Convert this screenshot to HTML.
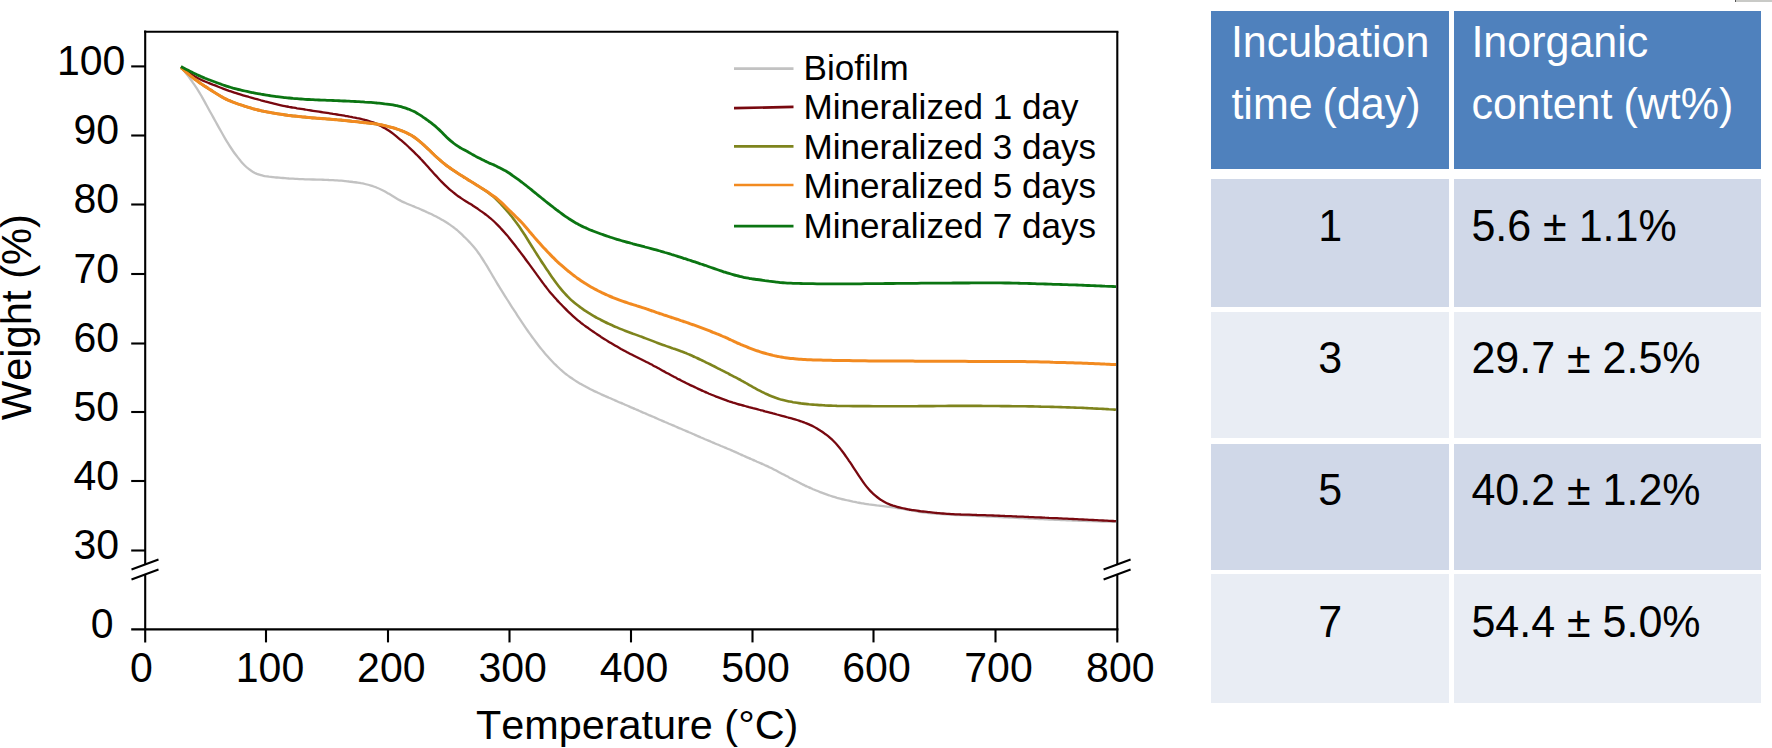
<!DOCTYPE html>
<html lang="en">
<head>
<meta charset="utf-8">
<title>TGA weight loss and inorganic content</title>
<style>
html,body{margin:0;padding:0;background:#fff;}
body{width:1772px;height:748px;position:relative;overflow:hidden;font-family:"Liberation Sans",sans-serif;color:#000;font-kerning:none;}
.chart{position:absolute;left:0;top:0;}
.chart text{font-family:"Liberation Sans",sans-serif;fill:#000;font-kerning:none;}
.corner{position:absolute;left:1735px;top:0;width:37px;height:2px;background:#c9cac7;border-left:1px solid #555;}
.tbl{position:absolute;left:0;top:0;width:1772px;height:748px;font-size:43px;}
.row{position:absolute;left:1211.4px;width:549.3px;}
.cell{position:absolute;top:0;bottom:0;box-sizing:border-box;}
.c1{left:0;width:237.4px;}
.c2{left:242.5px;width:306.8px;}
.hd{top:11.3px;height:157.3px;color:#fff;}
.hd .cell{background:#4f81bd;}
.r1{top:178.8px;height:128px;}
.r2{top:312.2px;height:126.2px;}
.r3{top:443.5px;height:126.4px;}
.r4{top:574.3px;height:129.2px;}
.r1 .cell,.r3 .cell{background:#d0d8e8;}
.r2 .cell,.r4 .cell{background:#e9edf4;}
.cell span{position:absolute;white-space:nowrap;line-height:1;transform-origin:0 36.2px;}
.hd span{transform:scaleY(1.015);}
.bd span{transform:scaleY(1.04);}
.c1 .n{left:0;right:0;text-align:center;}
.c2 .v{left:17.5px;}
</style>
</head>
<body>
<svg class="chart" role="img" aria-label="Thermogravimetric weight loss curves" width="1772" height="748" viewBox="0 0 1772 748">
<g fill="none" stroke-linejoin="round" stroke-linecap="butt">
<path stroke="#c2c2c2" stroke-width="2.3" d="M181.0 67.2C181.7 68.0 183.7 70.4 185.0 72.1C186.3 73.7 187.7 75.4 189.0 77.2C190.3 79.0 191.7 80.8 193.0 82.8C194.3 84.7 195.7 86.7 197.0 88.7C198.3 90.8 199.7 93.0 201.0 95.3C202.3 97.6 203.7 100.0 205.0 102.4C206.3 104.8 207.7 107.2 209.0 109.7C210.3 112.1 211.7 114.5 213.0 116.9C214.3 119.3 215.7 121.7 217.0 124.1C218.3 126.5 219.7 129.0 221.0 131.3C222.3 133.7 223.7 136.1 225.0 138.3C226.3 140.6 227.7 142.8 229.0 144.9C230.3 147.0 231.7 149.0 233.0 151.0C234.3 152.9 235.7 154.7 237.0 156.4C238.3 158.2 239.7 159.8 241.0 161.4C242.3 162.9 243.7 164.4 245.0 165.7C246.3 167.0 247.7 168.2 249.0 169.2C250.3 170.3 251.7 171.2 253.0 171.9C254.3 172.7 255.7 173.3 257.0 173.9C258.3 174.4 259.7 174.8 261.0 175.2C262.3 175.6 263.7 175.8 265.0 176.1C266.3 176.3 267.7 176.5 269.0 176.7C270.3 176.8 271.7 177.0 273.0 177.1C274.3 177.2 275.7 177.4 277.0 177.5C278.3 177.6 279.7 177.7 281.0 177.8C282.3 177.9 283.7 178.1 285.0 178.2C286.3 178.3 287.7 178.4 289.0 178.5C290.3 178.5 291.7 178.6 293.0 178.7C294.3 178.8 295.7 178.9 297.0 178.9C298.3 179.0 299.7 179.1 301.0 179.1C302.3 179.2 303.7 179.2 305.0 179.3C306.3 179.3 307.7 179.4 309.0 179.4C310.3 179.5 311.7 179.5 313.0 179.5C314.3 179.6 315.7 179.6 317.0 179.6C318.3 179.6 319.7 179.7 321.0 179.7C322.3 179.7 323.7 179.8 325.0 179.8C326.3 179.9 327.7 179.9 329.0 180.0C330.3 180.0 331.7 180.1 333.0 180.2C334.3 180.3 335.7 180.3 337.0 180.4C338.3 180.5 339.7 180.6 341.0 180.7C342.3 180.8 343.7 180.9 345.0 181.1C346.3 181.2 347.7 181.3 349.0 181.5C350.3 181.6 351.7 181.8 353.0 182.0C354.3 182.1 355.7 182.3 357.0 182.5C358.3 182.7 359.7 182.9 361.0 183.2C362.3 183.4 363.7 183.7 365.0 184.0C366.3 184.3 367.7 184.7 369.0 185.0C370.3 185.4 371.7 185.8 373.0 186.2C374.3 186.7 375.7 187.1 377.0 187.7C378.3 188.2 379.7 188.8 381.0 189.5C382.3 190.1 383.7 190.8 385.0 191.5C386.3 192.3 387.7 193.0 389.0 193.8C390.3 194.6 391.7 195.4 393.0 196.2C394.3 197.0 395.7 197.9 397.0 198.7C398.3 199.5 399.7 200.2 401.0 200.9C402.3 201.6 403.7 202.2 405.0 202.8C406.3 203.4 407.7 204.0 409.0 204.5C410.3 205.1 411.7 205.6 413.0 206.1C414.3 206.7 415.7 207.2 417.0 207.8C418.3 208.3 419.7 208.9 421.0 209.5C422.3 210.1 423.7 210.7 425.0 211.3C426.3 211.9 427.7 212.5 429.0 213.1C430.3 213.7 431.7 214.3 433.0 215.0C434.3 215.7 435.7 216.3 437.0 217.0C438.3 217.7 439.7 218.5 441.0 219.2C442.3 220.0 443.7 220.7 445.0 221.5C446.3 222.4 447.7 223.2 449.0 224.1C450.3 225.0 451.7 225.9 453.0 226.9C454.3 227.9 455.7 228.9 457.0 230.0C458.3 231.2 459.7 232.4 461.0 233.6C462.3 234.9 463.7 236.2 465.0 237.5C466.3 238.8 467.7 240.2 469.0 241.6C470.3 243.0 471.7 244.4 473.0 245.9C474.3 247.5 475.7 249.1 477.0 250.9C478.3 252.7 479.7 254.6 481.0 256.7C482.3 258.7 483.7 260.8 485.0 263.0C486.3 265.1 487.7 267.3 489.0 269.6C490.3 271.8 491.7 274.1 493.0 276.4C494.3 278.6 495.7 280.9 497.0 283.1C498.3 285.3 499.7 287.5 501.0 289.7C502.3 291.8 503.7 294.0 505.0 296.1C506.3 298.2 507.7 300.3 509.0 302.4C510.3 304.5 511.7 306.6 513.0 308.6C514.3 310.7 515.7 312.7 517.0 314.8C518.3 316.8 519.7 318.8 521.0 320.8C522.3 322.8 523.7 324.8 525.0 326.8C526.3 328.8 527.7 330.7 529.0 332.6C530.3 334.5 531.7 336.4 533.0 338.2C534.3 340.0 535.7 341.8 537.0 343.5C538.3 345.3 539.7 347.0 541.0 348.6C542.3 350.3 543.7 351.9 545.0 353.5C546.3 355.0 547.7 356.5 549.0 358.0C550.3 359.5 551.7 360.9 553.0 362.2C554.3 363.6 555.7 364.9 557.0 366.2C558.3 367.5 559.7 368.7 561.0 369.9C562.3 371.1 563.7 372.2 565.0 373.3C566.3 374.3 567.7 375.3 569.0 376.3C570.3 377.3 571.7 378.2 573.0 379.1C574.3 380.0 575.7 380.9 577.0 381.7C578.3 382.5 579.7 383.3 581.0 384.1C582.3 384.9 583.7 385.6 585.0 386.3C586.3 387.1 587.7 387.8 589.0 388.4C590.3 389.1 591.7 389.8 593.0 390.4C594.3 391.1 595.7 391.7 597.0 392.3C598.3 392.9 599.7 393.6 601.0 394.2C602.3 394.8 603.7 395.4 605.0 396.0C606.3 396.6 607.7 397.2 609.0 397.8C610.3 398.3 611.7 398.9 613.0 399.5C614.3 400.1 615.7 400.6 617.0 401.2C618.3 401.8 619.7 402.4 621.0 402.9C622.3 403.5 623.7 404.1 625.0 404.7C626.3 405.3 627.7 405.8 629.0 406.4C630.3 407.0 631.7 407.6 633.0 408.1C634.3 408.7 635.7 409.3 637.0 409.9C638.3 410.5 639.7 411.0 641.0 411.6C642.3 412.2 643.7 412.8 645.0 413.3C646.3 413.9 647.7 414.5 649.0 415.1C650.3 415.6 651.7 416.2 653.0 416.8C654.3 417.4 655.7 417.9 657.0 418.5C658.3 419.1 659.7 419.7 661.0 420.2C662.3 420.8 663.7 421.4 665.0 422.0C666.3 422.5 667.7 423.1 669.0 423.7C670.3 424.2 671.7 424.8 673.0 425.4C674.3 426.0 675.7 426.5 677.0 427.1C678.3 427.7 679.7 428.3 681.0 428.8C682.3 429.4 683.7 430.0 685.0 430.5C686.3 431.1 687.7 431.7 689.0 432.3C690.3 432.8 691.7 433.4 693.0 434.0C694.3 434.6 695.7 435.1 697.0 435.7C698.3 436.3 699.7 436.9 701.0 437.5C702.3 438.0 703.7 438.6 705.0 439.2C706.3 439.7 707.7 440.3 709.0 440.9C710.3 441.5 711.7 442.0 713.0 442.6C714.3 443.2 715.7 443.7 717.0 444.3C718.3 444.8 719.7 445.4 721.0 446.0C722.3 446.5 723.7 447.1 725.0 447.6C726.3 448.2 727.7 448.7 729.0 449.3C730.3 449.9 731.7 450.4 733.0 451.0C734.3 451.6 735.7 452.2 737.0 452.8C738.3 453.4 739.7 454.0 741.0 454.6C742.3 455.2 743.7 455.8 745.0 456.4C746.3 457.0 747.7 457.6 749.0 458.1C750.3 458.7 751.7 459.3 753.0 459.9C754.3 460.5 755.7 461.1 757.0 461.7C758.3 462.2 759.7 462.8 761.0 463.4C762.3 464.0 763.7 464.6 765.0 465.2C766.3 465.8 767.7 466.4 769.0 467.1C770.3 467.7 771.7 468.3 773.0 469.0C774.3 469.7 775.7 470.4 777.0 471.1C778.3 471.8 779.7 472.5 781.0 473.2C782.3 473.9 783.7 474.6 785.0 475.3C786.3 476.0 787.7 476.7 789.0 477.4C790.3 478.1 791.7 478.8 793.0 479.5C794.3 480.2 795.7 480.9 797.0 481.6C798.3 482.3 799.7 483.0 801.0 483.6C802.3 484.3 803.7 484.9 805.0 485.6C806.3 486.2 807.7 486.8 809.0 487.4C810.3 488.0 811.7 488.6 813.0 489.2C814.3 489.7 815.7 490.3 817.0 490.8C818.3 491.4 819.7 491.9 821.0 492.4C822.3 492.9 823.7 493.4 825.0 493.9C826.3 494.4 827.7 494.9 829.0 495.3C830.3 495.8 831.7 496.2 833.0 496.6C834.3 497.0 835.7 497.4 837.0 497.8C838.3 498.1 839.7 498.5 841.0 498.8C842.3 499.2 843.7 499.5 845.0 499.8C846.3 500.1 847.7 500.4 849.0 500.7C850.3 501.0 851.7 501.3 853.0 501.6C854.3 501.8 855.7 502.1 857.0 502.4C858.3 502.6 859.7 502.9 861.0 503.1C862.3 503.3 863.7 503.6 865.0 503.8C866.3 504.0 867.7 504.2 869.0 504.4C870.3 504.5 871.7 504.7 873.0 504.9C874.3 505.1 875.7 505.2 877.0 505.4C878.3 505.5 879.7 505.7 881.0 505.8C882.3 506.0 883.7 506.2 885.0 506.3C886.3 506.5 887.7 506.6 889.0 506.8C890.3 507.0 891.7 507.2 893.0 507.4C894.3 507.6 895.7 507.8 897.0 508.0C898.3 508.2 899.7 508.4 901.0 508.6C902.3 508.9 903.7 509.1 905.0 509.3C906.3 509.5 907.7 509.8 909.0 510.0C910.3 510.3 911.7 510.5 913.0 510.7C914.3 511.0 915.7 511.2 917.0 511.4C918.3 511.7 919.7 511.9 921.0 512.0C922.3 512.2 923.7 512.4 925.0 512.6C926.3 512.7 927.7 512.8 929.0 513.0C930.3 513.1 931.7 513.2 933.0 513.4C934.3 513.5 935.7 513.6 937.0 513.7C938.3 513.8 939.7 513.9 941.0 514.0C942.3 514.1 943.7 514.2 945.0 514.3C946.3 514.4 947.7 514.4 949.0 514.5C950.3 514.6 951.7 514.7 953.0 514.8C954.3 514.8 955.7 514.9 957.0 515.0C958.3 515.0 959.7 515.1 961.0 515.2C962.3 515.2 963.7 515.3 965.0 515.4C966.3 515.4 967.7 515.5 969.0 515.6C970.3 515.6 971.7 515.7 973.0 515.8C974.3 515.8 975.7 515.9 977.0 515.9C978.3 516.0 979.7 516.1 981.0 516.1C982.3 516.2 983.7 516.3 985.0 516.3C986.3 516.4 987.7 516.5 989.0 516.5C990.3 516.6 991.7 516.7 993.0 516.7C994.3 516.8 995.7 516.9 997.0 516.9C998.3 517.0 999.7 517.1 1001.0 517.1C1002.3 517.2 1003.7 517.3 1005.0 517.3C1006.3 517.4 1007.7 517.4 1009.0 517.5C1010.3 517.6 1011.7 517.6 1013.0 517.7C1014.3 517.8 1015.7 517.8 1017.0 517.9C1018.3 518.0 1019.7 518.0 1021.0 518.1C1022.3 518.2 1023.7 518.2 1025.0 518.3C1026.3 518.4 1027.7 518.4 1029.0 518.5C1030.3 518.6 1031.7 518.6 1033.0 518.7C1034.3 518.8 1035.7 518.8 1037.0 518.9C1038.3 519.0 1039.7 519.0 1041.0 519.1C1042.3 519.2 1043.7 519.2 1045.0 519.3C1046.3 519.4 1047.7 519.4 1049.0 519.5C1050.3 519.6 1051.7 519.6 1053.0 519.7C1054.3 519.8 1055.7 519.8 1057.0 519.9C1058.3 519.9 1059.7 520.0 1061.0 520.0C1062.3 520.1 1063.7 520.1 1065.0 520.2C1066.3 520.3 1067.7 520.3 1069.0 520.4C1070.3 520.4 1071.7 520.5 1073.0 520.5C1074.3 520.6 1075.7 520.6 1077.0 520.7C1078.3 520.7 1079.7 520.8 1081.0 520.8C1082.3 520.9 1083.7 520.9 1085.0 520.9C1086.3 521.0 1087.7 521.0 1089.0 521.1C1090.3 521.1 1091.7 521.2 1093.0 521.2C1094.3 521.3 1095.7 521.3 1097.0 521.3C1098.3 521.4 1099.7 521.4 1101.0 521.5C1102.3 521.5 1103.7 521.6 1105.0 521.6C1106.3 521.6 1107.7 521.7 1109.0 521.7C1110.3 521.7 1111.8 521.8 1113.0 521.8C1114.2 521.8 1115.5 521.9 1116.0 521.9"/>
<path stroke="#78080f" stroke-width="2.3" d="M181.0 67.0C181.7 67.5 183.7 69.0 185.0 70.0C186.3 70.9 187.7 71.9 189.0 72.8C190.3 73.7 191.7 74.5 193.0 75.3C194.3 76.2 195.7 76.9 197.0 77.7C198.3 78.4 199.7 79.1 201.0 79.7C202.3 80.4 203.7 80.9 205.0 81.5C206.3 82.1 207.7 82.6 209.0 83.1C210.3 83.7 211.7 84.2 213.0 84.7C214.3 85.2 215.7 85.7 217.0 86.2C218.3 86.8 219.7 87.3 221.0 87.8C222.3 88.3 223.7 88.8 225.0 89.3C226.3 89.8 227.7 90.3 229.0 90.8C230.3 91.2 231.7 91.7 233.0 92.1C234.3 92.6 235.7 93.0 237.0 93.4C238.3 93.9 239.7 94.3 241.0 94.7C242.3 95.1 243.7 95.5 245.0 95.9C246.3 96.3 247.7 96.6 249.0 97.0C250.3 97.4 251.7 97.8 253.0 98.1C254.3 98.5 255.7 98.9 257.0 99.2C258.3 99.6 259.7 99.9 261.0 100.3C262.3 100.6 263.7 101.0 265.0 101.4C266.3 101.7 267.7 102.1 269.0 102.4C270.3 102.7 271.7 103.1 273.0 103.4C274.3 103.7 275.7 104.1 277.0 104.4C278.3 104.7 279.7 105.0 281.0 105.3C282.3 105.6 283.7 105.9 285.0 106.1C286.3 106.4 287.7 106.6 289.0 106.9C290.3 107.1 291.7 107.4 293.0 107.6C294.3 107.8 295.7 108.0 297.0 108.3C298.3 108.5 299.7 108.7 301.0 108.9C302.3 109.1 303.7 109.3 305.0 109.5C306.3 109.8 307.7 110.0 309.0 110.2C310.3 110.4 311.7 110.6 313.0 110.8C314.3 111.0 315.7 111.2 317.0 111.4C318.3 111.6 319.7 111.8 321.0 112.0C322.3 112.2 323.7 112.4 325.0 112.6C326.3 112.8 327.7 113.0 329.0 113.2C330.3 113.4 331.7 113.6 333.0 113.9C334.3 114.1 335.7 114.3 337.0 114.5C338.3 114.7 339.7 114.9 341.0 115.1C342.3 115.4 343.7 115.6 345.0 115.8C346.3 116.0 347.7 116.3 349.0 116.5C350.3 116.8 351.7 117.0 353.0 117.3C354.3 117.5 355.7 117.8 357.0 118.1C358.3 118.3 359.7 118.6 361.0 118.9C362.3 119.2 363.7 119.5 365.0 119.9C366.3 120.2 367.7 120.6 369.0 121.0C370.3 121.4 371.7 121.9 373.0 122.4C374.3 122.9 375.7 123.5 377.0 124.1C378.3 124.7 379.7 125.4 381.0 126.1C382.3 126.8 383.7 127.5 385.0 128.3C386.3 129.1 387.7 129.9 389.0 130.8C390.3 131.7 391.7 132.7 393.0 133.7C394.3 134.7 395.7 135.8 397.0 136.9C398.3 138.0 399.7 139.1 401.0 140.2C402.3 141.3 403.7 142.5 405.0 143.6C406.3 144.8 407.7 146.0 409.0 147.3C410.3 148.5 411.7 149.8 413.0 151.1C414.3 152.4 415.7 153.7 417.0 155.0C418.3 156.4 419.7 157.7 421.0 159.2C422.3 160.6 423.7 162.0 425.0 163.5C426.3 165.0 427.7 166.5 429.0 168.0C430.3 169.5 431.7 171.0 433.0 172.5C434.3 174.0 435.7 175.4 437.0 176.8C438.3 178.3 439.7 179.7 441.0 181.1C442.3 182.4 443.7 183.8 445.0 185.1C446.3 186.4 447.7 187.6 449.0 188.8C450.3 190.0 451.7 191.1 453.0 192.2C454.3 193.2 455.7 194.3 457.0 195.3C458.3 196.3 459.7 197.2 461.0 198.1C462.3 199.0 463.7 199.9 465.0 200.7C466.3 201.6 467.7 202.4 469.0 203.2C470.3 204.0 471.7 204.8 473.0 205.7C474.3 206.6 475.7 207.4 477.0 208.3C478.3 209.2 479.7 210.1 481.0 211.1C482.3 212.0 483.7 213.0 485.0 214.0C486.3 215.0 487.7 216.0 489.0 217.1C490.3 218.2 491.7 219.3 493.0 220.5C494.3 221.7 495.7 223.0 497.0 224.4C498.3 225.7 499.7 227.1 501.0 228.6C502.3 230.0 503.7 231.5 505.0 233.0C506.3 234.6 507.7 236.1 509.0 237.7C510.3 239.4 511.7 241.0 513.0 242.7C514.3 244.4 515.7 246.1 517.0 247.9C518.3 249.6 519.7 251.4 521.0 253.1C522.3 254.9 523.7 256.7 525.0 258.5C526.3 260.3 527.7 262.1 529.0 263.9C530.3 265.7 531.7 267.6 533.0 269.4C534.3 271.2 535.7 273.0 537.0 274.9C538.3 276.7 539.7 278.6 541.0 280.4C542.3 282.2 543.7 284.0 545.0 285.8C546.3 287.5 547.7 289.2 549.0 290.9C550.3 292.5 551.7 294.1 553.0 295.6C554.3 297.2 555.7 298.6 557.0 300.1C558.3 301.5 559.7 302.9 561.0 304.3C562.3 305.7 563.7 307.1 565.0 308.4C566.3 309.8 567.7 311.1 569.0 312.4C570.3 313.7 571.7 314.9 573.0 316.1C574.3 317.3 575.7 318.5 577.0 319.6C578.3 320.7 579.7 321.7 581.0 322.8C582.3 323.8 583.7 324.8 585.0 325.8C586.3 326.8 587.7 327.7 589.0 328.7C590.3 329.6 591.7 330.6 593.0 331.5C594.3 332.4 595.7 333.3 597.0 334.2C598.3 335.1 599.7 336.0 601.0 336.9C602.3 337.7 603.7 338.6 605.0 339.4C606.3 340.3 607.7 341.1 609.0 341.9C610.3 342.7 611.7 343.5 613.0 344.3C614.3 345.1 615.7 345.9 617.0 346.6C618.3 347.4 619.7 348.1 621.0 348.9C622.3 349.6 623.7 350.3 625.0 351.1C626.3 351.8 627.7 352.5 629.0 353.2C630.3 353.9 631.7 354.6 633.0 355.3C634.3 356.0 635.7 356.7 637.0 357.3C638.3 358.0 639.7 358.7 641.0 359.3C642.3 360.0 643.7 360.7 645.0 361.3C646.3 362.0 647.7 362.6 649.0 363.3C650.3 364.0 651.7 364.7 653.0 365.4C654.3 366.1 655.7 366.8 657.0 367.5C658.3 368.2 659.7 369.0 661.0 369.7C662.3 370.5 663.7 371.2 665.0 371.9C666.3 372.7 667.7 373.4 669.0 374.1C670.3 374.9 671.7 375.6 673.0 376.3C674.3 377.0 675.7 377.7 677.0 378.4C678.3 379.1 679.7 379.7 681.0 380.4C682.3 381.1 683.7 381.8 685.0 382.4C686.3 383.1 687.7 383.8 689.0 384.4C690.3 385.1 691.7 385.7 693.0 386.3C694.3 387.0 695.7 387.6 697.0 388.2C698.3 388.9 699.7 389.5 701.0 390.1C702.3 390.7 703.7 391.3 705.0 391.9C706.3 392.5 707.7 393.1 709.0 393.7C710.3 394.2 711.7 394.8 713.0 395.3C714.3 395.9 715.7 396.4 717.0 396.9C718.3 397.4 719.7 397.9 721.0 398.4C722.3 398.9 723.7 399.4 725.0 399.9C726.3 400.4 727.7 400.8 729.0 401.3C730.3 401.7 731.7 402.1 733.0 402.6C734.3 403.0 735.7 403.4 737.0 403.8C738.3 404.2 739.7 404.6 741.0 404.9C742.3 405.3 743.7 405.7 745.0 406.0C746.3 406.4 747.7 406.7 749.0 407.1C750.3 407.4 751.7 407.8 753.0 408.2C754.3 408.5 755.7 408.9 757.0 409.2C758.3 409.6 759.7 409.9 761.0 410.3C762.3 410.6 763.7 410.9 765.0 411.3C766.3 411.6 767.7 412.0 769.0 412.3C770.3 412.7 771.7 413.0 773.0 413.4C774.3 413.7 775.7 414.1 777.0 414.5C778.3 414.8 779.7 415.2 781.0 415.6C782.3 416.0 783.7 416.3 785.0 416.7C786.3 417.1 787.7 417.4 789.0 417.8C790.3 418.1 791.7 418.4 793.0 418.8C794.3 419.2 795.7 419.6 797.0 420.0C798.3 420.4 799.7 420.9 801.0 421.3C802.3 421.8 803.7 422.2 805.0 422.8C806.3 423.3 807.7 423.8 809.0 424.4C810.3 425.0 811.7 425.6 813.0 426.3C814.3 427.0 815.7 427.8 817.0 428.6C818.3 429.4 819.7 430.2 821.0 431.1C822.3 431.9 823.7 432.8 825.0 433.8C826.3 434.8 827.7 435.8 829.0 436.9C830.3 438.1 831.7 439.3 833.0 440.5C834.3 441.8 835.7 443.2 837.0 444.7C838.3 446.2 839.7 447.8 841.0 449.6C842.3 451.3 843.7 453.1 845.0 455.0C846.3 456.9 847.7 458.8 849.0 460.8C850.3 462.7 851.7 464.7 853.0 466.8C854.3 468.8 855.7 470.8 857.0 472.8C858.3 474.9 859.7 477.0 861.0 478.9C862.3 480.9 863.7 482.9 865.0 484.6C866.3 486.4 867.7 488.0 869.0 489.5C870.3 491.0 871.7 492.3 873.0 493.6C874.3 494.8 875.7 496.0 877.0 497.0C878.3 498.1 879.7 499.1 881.0 499.9C882.3 500.8 883.7 501.6 885.0 502.3C886.3 503.0 887.7 503.6 889.0 504.1C890.3 504.7 891.7 505.1 893.0 505.6C894.3 506.0 895.7 506.4 897.0 506.8C898.3 507.2 899.7 507.5 901.0 507.8C902.3 508.1 903.7 508.4 905.0 508.7C906.3 509.0 907.7 509.2 909.0 509.5C910.3 509.7 911.7 510.0 913.0 510.2C914.3 510.4 915.7 510.6 917.0 510.7C918.3 510.9 919.7 511.1 921.0 511.3C922.3 511.4 923.7 511.6 925.0 511.7C926.3 511.9 927.7 512.0 929.0 512.2C930.3 512.3 931.7 512.4 933.0 512.6C934.3 512.7 935.7 512.8 937.0 513.0C938.3 513.1 939.7 513.2 941.0 513.3C942.3 513.4 943.7 513.6 945.0 513.7C946.3 513.8 947.7 513.8 949.0 513.9C950.3 514.0 951.7 514.1 953.0 514.1C954.3 514.2 955.7 514.3 957.0 514.3C958.3 514.4 959.7 514.4 961.0 514.5C962.3 514.5 963.7 514.6 965.0 514.6C966.3 514.6 967.7 514.7 969.0 514.7C970.3 514.8 971.7 514.8 973.0 514.8C974.3 514.9 975.7 514.9 977.0 515.0C978.3 515.0 979.7 515.0 981.0 515.1C982.3 515.1 983.7 515.2 985.0 515.2C986.3 515.3 987.7 515.3 989.0 515.4C990.3 515.4 991.7 515.5 993.0 515.5C994.3 515.6 995.7 515.6 997.0 515.7C998.3 515.7 999.7 515.8 1001.0 515.8C1002.3 515.9 1003.7 515.9 1005.0 516.0C1006.3 516.0 1007.7 516.1 1009.0 516.1C1010.3 516.2 1011.7 516.2 1013.0 516.3C1014.3 516.4 1015.7 516.4 1017.0 516.5C1018.3 516.5 1019.7 516.6 1021.0 516.6C1022.3 516.7 1023.7 516.7 1025.0 516.8C1026.3 516.9 1027.7 516.9 1029.0 517.0C1030.3 517.0 1031.7 517.1 1033.0 517.1C1034.3 517.2 1035.7 517.3 1037.0 517.3C1038.3 517.4 1039.7 517.4 1041.0 517.5C1042.3 517.6 1043.7 517.6 1045.0 517.7C1046.3 517.7 1047.7 517.8 1049.0 517.9C1050.3 517.9 1051.7 518.0 1053.0 518.1C1054.3 518.1 1055.7 518.2 1057.0 518.2C1058.3 518.3 1059.7 518.4 1061.0 518.4C1062.3 518.5 1063.7 518.6 1065.0 518.6C1066.3 518.7 1067.7 518.7 1069.0 518.8C1070.3 518.9 1071.7 518.9 1073.0 519.0C1074.3 519.1 1075.7 519.1 1077.0 519.2C1078.3 519.3 1079.7 519.3 1081.0 519.4C1082.3 519.5 1083.7 519.5 1085.0 519.6C1086.3 519.7 1087.7 519.7 1089.0 519.8C1090.3 519.9 1091.7 519.9 1093.0 520.0C1094.3 520.1 1095.7 520.1 1097.0 520.2C1098.3 520.3 1099.7 520.3 1101.0 520.4C1102.3 520.5 1103.7 520.5 1105.0 520.6C1106.3 520.7 1107.7 520.7 1109.0 520.8C1110.3 520.9 1111.8 520.9 1113.0 521.0C1114.2 521.1 1115.5 521.1 1116.0 521.2"/>
<path stroke="#7e841d" stroke-width="2.6" d="M181.0 67.5C181.7 68.1 183.7 70.0 185.0 71.1C186.3 72.3 187.7 73.5 189.0 74.6C190.3 75.7 191.7 76.8 193.0 77.8C194.3 78.9 195.7 79.9 197.0 80.8C198.3 81.8 199.7 82.8 201.0 83.7C202.3 84.6 203.7 85.5 205.0 86.4C206.3 87.2 207.7 88.1 209.0 89.0C210.3 89.8 211.7 90.6 213.0 91.5C214.3 92.3 215.7 93.2 217.0 94.0C218.3 94.8 219.7 95.6 221.0 96.4C222.3 97.2 223.7 97.9 225.0 98.6C226.3 99.3 227.7 99.9 229.0 100.5C230.3 101.0 231.7 101.6 233.0 102.1C234.3 102.6 235.7 103.1 237.0 103.6C238.3 104.1 239.7 104.5 241.0 104.9C242.3 105.4 243.7 105.8 245.0 106.3C246.3 106.7 247.7 107.1 249.0 107.5C250.3 107.9 251.7 108.3 253.0 108.7C254.3 109.0 255.7 109.4 257.0 109.7C258.3 110.1 259.7 110.4 261.0 110.7C262.3 111.0 263.7 111.2 265.0 111.5C266.3 111.8 267.7 112.1 269.0 112.3C270.3 112.6 271.7 112.8 273.0 113.0C274.3 113.3 275.7 113.5 277.0 113.7C278.3 113.9 279.7 114.1 281.0 114.3C282.3 114.5 283.7 114.7 285.0 114.9C286.3 115.1 287.7 115.2 289.0 115.4C290.3 115.6 291.7 115.7 293.0 115.9C294.3 116.0 295.7 116.2 297.0 116.3C298.3 116.5 299.7 116.6 301.0 116.7C302.3 116.9 303.7 117.0 305.0 117.1C306.3 117.3 307.7 117.4 309.0 117.5C310.3 117.6 311.7 117.8 313.0 117.9C314.3 118.0 315.7 118.1 317.0 118.2C318.3 118.3 319.7 118.4 321.0 118.5C322.3 118.6 323.7 118.7 325.0 118.8C326.3 118.9 327.7 119.0 329.0 119.1C330.3 119.2 331.7 119.3 333.0 119.4C334.3 119.5 335.7 119.6 337.0 119.8C338.3 119.9 339.7 120.0 341.0 120.1C342.3 120.3 343.7 120.4 345.0 120.5C346.3 120.7 347.7 120.8 349.0 120.9C350.3 121.1 351.7 121.2 353.0 121.4C354.3 121.5 355.7 121.7 357.0 121.8C358.3 121.9 359.7 122.1 361.0 122.2C362.3 122.4 363.7 122.5 365.0 122.7C366.3 122.8 367.7 122.9 369.0 123.1C370.3 123.2 371.7 123.4 373.0 123.6C374.3 123.7 375.7 123.9 377.0 124.1C378.3 124.3 379.7 124.6 381.0 124.8C382.3 125.1 383.7 125.4 385.0 125.7C386.3 126.0 387.7 126.3 389.0 126.7C390.3 127.0 391.7 127.4 393.0 127.8C394.3 128.2 395.7 128.6 397.0 129.1C398.3 129.5 399.7 130.0 401.0 130.5C402.3 131.0 403.7 131.5 405.0 132.1C406.3 132.7 407.7 133.3 409.0 134.1C410.3 134.8 411.7 135.5 413.0 136.4C414.3 137.2 415.7 138.2 417.0 139.2C418.3 140.3 419.7 141.4 421.0 142.5C422.3 143.7 423.7 144.9 425.0 146.1C426.3 147.3 427.7 148.5 429.0 149.8C430.3 151.1 431.7 152.4 433.0 153.7C434.3 155.0 435.7 156.3 437.0 157.5C438.3 158.7 439.7 159.9 441.0 161.0C442.3 162.2 443.7 163.3 445.0 164.3C446.3 165.4 447.7 166.4 449.0 167.3C450.3 168.3 451.7 169.2 453.0 170.1C454.3 171.0 455.7 171.9 457.0 172.7C458.3 173.6 459.7 174.5 461.0 175.3C462.3 176.2 463.7 177.0 465.0 177.8C466.3 178.7 467.7 179.5 469.0 180.3C470.3 181.1 471.7 181.9 473.0 182.7C474.3 183.6 475.7 184.4 477.0 185.2C478.3 186.1 479.7 186.9 481.0 187.8C482.3 188.6 483.7 189.5 485.0 190.4C486.3 191.2 487.7 192.1 489.0 193.1C490.3 194.1 491.7 195.2 493.0 196.3C494.3 197.4 495.7 198.7 497.0 200.0C498.3 201.3 499.7 202.7 501.0 204.1C502.3 205.5 503.7 207.0 505.0 208.6C506.3 210.1 507.7 211.7 509.0 213.3C510.3 214.9 511.7 216.5 513.0 218.2C514.3 219.9 515.7 221.7 517.0 223.5C518.3 225.4 519.7 227.2 521.0 229.2C522.3 231.2 523.7 233.2 525.0 235.3C526.3 237.4 527.7 239.6 529.0 241.7C530.3 243.8 531.7 246.0 533.0 248.2C534.3 250.3 535.7 252.4 537.0 254.5C538.3 256.6 539.7 258.6 541.0 260.7C542.3 262.8 543.7 264.8 545.0 266.8C546.3 268.8 547.7 270.8 549.0 272.7C550.3 274.7 551.7 276.6 553.0 278.5C554.3 280.4 555.7 282.3 557.0 284.0C558.3 285.8 559.7 287.5 561.0 289.1C562.3 290.7 563.7 292.3 565.0 293.7C566.3 295.2 567.7 296.5 569.0 297.8C570.3 299.1 571.7 300.4 573.0 301.5C574.3 302.7 575.7 303.8 577.0 304.8C578.3 305.9 579.7 306.8 581.0 307.8C582.3 308.8 583.7 309.7 585.0 310.6C586.3 311.5 587.7 312.3 589.0 313.2C590.3 314.0 591.7 314.8 593.0 315.6C594.3 316.4 595.7 317.1 597.0 317.9C598.3 318.6 599.7 319.3 601.0 320.0C602.3 320.7 603.7 321.4 605.0 322.0C606.3 322.7 607.7 323.3 609.0 323.9C610.3 324.5 611.7 325.1 613.0 325.7C614.3 326.3 615.7 326.9 617.0 327.4C618.3 328.0 619.7 328.6 621.0 329.1C622.3 329.6 623.7 330.2 625.0 330.7C626.3 331.2 627.7 331.7 629.0 332.2C630.3 332.7 631.7 333.2 633.0 333.7C634.3 334.1 635.7 334.6 637.0 335.1C638.3 335.6 639.7 336.1 641.0 336.6C642.3 337.0 643.7 337.6 645.0 338.1C646.3 338.6 647.7 339.1 649.0 339.6C650.3 340.1 651.7 340.6 653.0 341.1C654.3 341.7 655.7 342.2 657.0 342.7C658.3 343.2 659.7 343.7 661.0 344.2C662.3 344.7 663.7 345.2 665.0 345.6C666.3 346.1 667.7 346.6 669.0 347.0C670.3 347.5 671.7 347.9 673.0 348.4C674.3 348.8 675.7 349.3 677.0 349.7C678.3 350.2 679.7 350.7 681.0 351.2C682.3 351.7 683.7 352.2 685.0 352.8C686.3 353.3 687.7 353.9 689.0 354.4C690.3 355.0 691.7 355.6 693.0 356.2C694.3 356.8 695.7 357.4 697.0 358.0C698.3 358.7 699.7 359.3 701.0 359.9C702.3 360.6 703.7 361.2 705.0 361.8C706.3 362.5 707.7 363.1 709.0 363.8C710.3 364.4 711.7 365.1 713.0 365.8C714.3 366.4 715.7 367.1 717.0 367.8C718.3 368.5 719.7 369.2 721.0 369.9C722.3 370.5 723.7 371.2 725.0 371.9C726.3 372.6 727.7 373.3 729.0 374.0C730.3 374.7 731.7 375.4 733.0 376.1C734.3 376.8 735.7 377.5 737.0 378.2C738.3 378.9 739.7 379.6 741.0 380.3C742.3 381.0 743.7 381.8 745.0 382.5C746.3 383.3 747.7 384.0 749.0 384.8C750.3 385.6 751.7 386.3 753.0 387.1C754.3 387.8 755.7 388.6 757.0 389.3C758.3 390.0 759.7 390.7 761.0 391.4C762.3 392.1 763.7 392.7 765.0 393.4C766.3 394.0 767.7 394.6 769.0 395.2C770.3 395.8 771.7 396.3 773.0 396.8C774.3 397.4 775.7 397.9 777.0 398.3C778.3 398.8 779.7 399.2 781.0 399.6C782.3 399.9 783.7 400.3 785.0 400.6C786.3 400.9 787.7 401.2 789.0 401.5C790.3 401.7 791.7 401.9 793.0 402.2C794.3 402.4 795.7 402.6 797.0 402.8C798.3 403.0 799.7 403.2 801.0 403.4C802.3 403.5 803.7 403.7 805.0 403.9C806.3 404.0 807.7 404.1 809.0 404.3C810.3 404.4 811.7 404.5 813.0 404.6C814.3 404.7 815.7 404.8 817.0 404.9C818.3 405.0 819.7 405.1 821.0 405.1C822.3 405.2 823.7 405.3 825.0 405.4C826.3 405.4 827.7 405.5 829.0 405.6C830.3 405.6 831.7 405.7 833.0 405.7C834.3 405.8 835.7 405.8 837.0 405.9C838.3 405.9 839.7 406.0 841.0 406.0C842.3 406.0 843.7 406.0 845.0 406.0C846.3 406.0 847.7 406.0 849.0 406.0C850.3 406.1 851.7 406.1 853.0 406.1C854.3 406.1 855.7 406.1 857.0 406.1C858.3 406.1 859.7 406.1 861.0 406.1C862.3 406.1 863.7 406.1 865.0 406.1C866.3 406.1 867.7 406.1 869.0 406.1C870.3 406.1 871.7 406.1 873.0 406.2C874.3 406.2 875.7 406.2 877.0 406.2C878.3 406.2 879.7 406.2 881.0 406.2C882.3 406.2 883.7 406.2 885.0 406.2C886.3 406.2 887.7 406.2 889.0 406.2C890.3 406.2 891.7 406.2 893.0 406.2C894.3 406.2 895.7 406.2 897.0 406.2C898.3 406.2 899.7 406.2 901.0 406.2C902.3 406.2 903.7 406.2 905.0 406.2C906.3 406.2 907.7 406.2 909.0 406.2C910.3 406.2 911.7 406.2 913.0 406.2C914.3 406.2 915.7 406.2 917.0 406.2C918.3 406.2 919.7 406.1 921.0 406.1C922.3 406.1 923.7 406.1 925.0 406.1C926.3 406.1 927.7 406.1 929.0 406.1C930.3 406.1 931.7 406.1 933.0 406.1C934.3 406.0 935.7 406.0 937.0 406.0C938.3 406.0 939.7 406.0 941.0 406.0C942.3 406.0 943.7 406.0 945.0 406.0C946.3 406.0 947.7 406.0 949.0 405.9C950.3 405.9 951.7 405.9 953.0 405.9C954.3 405.9 955.7 405.9 957.0 405.9C958.3 405.9 959.7 405.9 961.0 405.9C962.3 405.9 963.7 405.9 965.0 405.9C966.3 405.9 967.7 405.9 969.0 405.9C970.3 405.9 971.7 405.9 973.0 405.9C974.3 405.9 975.7 405.9 977.0 405.9C978.3 405.9 979.7 405.9 981.0 405.9C982.3 405.9 983.7 406.0 985.0 406.0C986.3 406.0 987.7 406.0 989.0 406.0C990.3 406.0 991.7 406.0 993.0 406.0C994.3 406.0 995.7 406.0 997.0 406.0C998.3 406.0 999.7 406.1 1001.0 406.1C1002.3 406.1 1003.7 406.1 1005.0 406.1C1006.3 406.1 1007.7 406.1 1009.0 406.1C1010.3 406.2 1011.7 406.2 1013.0 406.2C1014.3 406.2 1015.7 406.2 1017.0 406.2C1018.3 406.2 1019.7 406.2 1021.0 406.3C1022.3 406.3 1023.7 406.3 1025.0 406.3C1026.3 406.3 1027.7 406.3 1029.0 406.4C1030.3 406.4 1031.7 406.4 1033.0 406.4C1034.3 406.4 1035.7 406.5 1037.0 406.5C1038.3 406.5 1039.7 406.5 1041.0 406.6C1042.3 406.6 1043.7 406.6 1045.0 406.7C1046.3 406.7 1047.7 406.7 1049.0 406.8C1050.3 406.8 1051.7 406.9 1053.0 406.9C1054.3 406.9 1055.7 407.0 1057.0 407.0C1058.3 407.1 1059.7 407.1 1061.0 407.1C1062.3 407.2 1063.7 407.2 1065.0 407.3C1066.3 407.3 1067.7 407.4 1069.0 407.4C1070.3 407.4 1071.7 407.5 1073.0 407.5C1074.3 407.6 1075.7 407.6 1077.0 407.7C1078.3 407.7 1079.7 407.8 1081.0 407.8C1082.3 407.9 1083.7 407.9 1085.0 408.0C1086.3 408.1 1087.7 408.1 1089.0 408.2C1090.3 408.2 1091.7 408.3 1093.0 408.4C1094.3 408.4 1095.7 408.5 1097.0 408.6C1098.3 408.7 1099.7 408.7 1101.0 408.8C1102.3 408.9 1103.7 408.9 1105.0 409.0C1106.3 409.1 1107.7 409.2 1109.0 409.3C1110.3 409.3 1111.8 409.4 1113.0 409.5C1114.2 409.6 1115.5 409.6 1116.0 409.7"/>
<path stroke="#f28a20" stroke-width="3.0" d="M181.0 67.5C181.7 68.1 183.7 70.0 185.0 71.1C186.3 72.3 187.7 73.5 189.0 74.6C190.3 75.7 191.7 76.8 193.0 77.8C194.3 78.9 195.7 79.9 197.0 80.8C198.3 81.8 199.7 82.8 201.0 83.7C202.3 84.6 203.7 85.5 205.0 86.4C206.3 87.2 207.7 88.1 209.0 89.0C210.3 89.8 211.7 90.6 213.0 91.5C214.3 92.3 215.7 93.2 217.0 94.0C218.3 94.8 219.7 95.6 221.0 96.4C222.3 97.2 223.7 97.9 225.0 98.6C226.3 99.3 227.7 99.9 229.0 100.5C230.3 101.0 231.7 101.6 233.0 102.1C234.3 102.6 235.7 103.1 237.0 103.6C238.3 104.1 239.7 104.5 241.0 104.9C242.3 105.4 243.7 105.8 245.0 106.3C246.3 106.7 247.7 107.1 249.0 107.5C250.3 107.9 251.7 108.3 253.0 108.7C254.3 109.0 255.7 109.4 257.0 109.7C258.3 110.1 259.7 110.4 261.0 110.7C262.3 111.0 263.7 111.2 265.0 111.5C266.3 111.8 267.7 112.1 269.0 112.3C270.3 112.6 271.7 112.8 273.0 113.0C274.3 113.3 275.7 113.5 277.0 113.7C278.3 113.9 279.7 114.1 281.0 114.3C282.3 114.5 283.7 114.7 285.0 114.9C286.3 115.1 287.7 115.2 289.0 115.4C290.3 115.6 291.7 115.7 293.0 115.9C294.3 116.0 295.7 116.2 297.0 116.3C298.3 116.5 299.7 116.6 301.0 116.7C302.3 116.9 303.7 117.0 305.0 117.1C306.3 117.3 307.7 117.4 309.0 117.5C310.3 117.6 311.7 117.8 313.0 117.9C314.3 118.0 315.7 118.1 317.0 118.2C318.3 118.3 319.7 118.4 321.0 118.5C322.3 118.6 323.7 118.7 325.0 118.8C326.3 118.9 327.7 119.0 329.0 119.1C330.3 119.2 331.7 119.3 333.0 119.4C334.3 119.5 335.7 119.6 337.0 119.8C338.3 119.9 339.7 120.0 341.0 120.1C342.3 120.3 343.7 120.4 345.0 120.5C346.3 120.7 347.7 120.8 349.0 120.9C350.3 121.1 351.7 121.2 353.0 121.4C354.3 121.5 355.7 121.7 357.0 121.8C358.3 121.9 359.7 122.1 361.0 122.2C362.3 122.4 363.7 122.5 365.0 122.7C366.3 122.8 367.7 122.9 369.0 123.1C370.3 123.2 371.7 123.4 373.0 123.6C374.3 123.7 375.7 123.9 377.0 124.1C378.3 124.3 379.7 124.6 381.0 124.8C382.3 125.1 383.7 125.4 385.0 125.7C386.3 126.0 387.7 126.3 389.0 126.7C390.3 127.0 391.7 127.4 393.0 127.8C394.3 128.2 395.7 128.6 397.0 129.1C398.3 129.5 399.7 130.0 401.0 130.5C402.3 131.0 403.7 131.5 405.0 132.1C406.3 132.7 407.7 133.3 409.0 134.1C410.3 134.8 411.7 135.5 413.0 136.4C414.3 137.2 415.7 138.2 417.0 139.2C418.3 140.3 419.7 141.4 421.0 142.5C422.3 143.7 423.7 144.9 425.0 146.1C426.3 147.3 427.7 148.5 429.0 149.8C430.3 151.1 431.7 152.4 433.0 153.7C434.3 155.0 435.7 156.3 437.0 157.5C438.3 158.7 439.7 159.9 441.0 161.0C442.3 162.2 443.7 163.3 445.0 164.3C446.3 165.4 447.7 166.4 449.0 167.3C450.3 168.3 451.7 169.2 453.0 170.1C454.3 171.0 455.7 171.9 457.0 172.7C458.3 173.6 459.7 174.5 461.0 175.3C462.3 176.2 463.7 177.0 465.0 177.8C466.3 178.7 467.7 179.5 469.0 180.3C470.3 181.1 471.7 181.9 473.0 182.7C474.3 183.6 475.7 184.4 477.0 185.2C478.3 186.1 479.7 186.9 481.0 187.8C482.3 188.6 483.7 189.5 485.0 190.3C486.3 191.2 487.7 192.0 489.0 192.9C490.3 193.8 491.7 194.7 493.0 195.7C494.3 196.7 495.7 197.6 497.0 198.7C498.3 199.8 499.7 201.0 501.0 202.2C502.3 203.4 503.7 204.7 505.0 206.0C506.3 207.3 507.7 208.7 509.0 210.0C510.3 211.3 511.7 212.6 513.0 213.9C514.3 215.2 515.7 216.5 517.0 217.8C518.3 219.1 519.7 220.4 521.0 221.8C522.3 223.2 523.7 224.7 525.0 226.2C526.3 227.7 527.7 229.3 529.0 230.9C530.3 232.4 531.7 234.1 533.0 235.6C534.3 237.2 535.7 238.8 537.0 240.3C538.3 241.8 539.7 243.3 541.0 244.8C542.3 246.3 543.7 247.7 545.0 249.1C546.3 250.5 547.7 251.9 549.0 253.3C550.3 254.7 551.7 256.0 553.0 257.4C554.3 258.7 555.7 260.0 557.0 261.3C558.3 262.5 559.7 263.8 561.0 264.9C562.3 266.1 563.7 267.3 565.0 268.4C566.3 269.6 567.7 270.7 569.0 271.7C570.3 272.8 571.7 273.9 573.0 274.9C574.3 275.9 575.7 276.9 577.0 277.9C578.3 278.8 579.7 279.8 581.0 280.7C582.3 281.6 583.7 282.4 585.0 283.3C586.3 284.1 587.7 284.9 589.0 285.7C590.3 286.5 591.7 287.3 593.0 288.0C594.3 288.8 595.7 289.5 597.0 290.2C598.3 290.9 599.7 291.6 601.0 292.2C602.3 292.9 603.7 293.5 605.0 294.1C606.3 294.7 607.7 295.3 609.0 295.9C610.3 296.5 611.7 297.0 613.0 297.6C614.3 298.1 615.7 298.6 617.0 299.1C618.3 299.7 619.7 300.2 621.0 300.6C622.3 301.1 623.7 301.6 625.0 302.0C626.3 302.5 627.7 302.9 629.0 303.4C630.3 303.8 631.7 304.2 633.0 304.6C634.3 305.0 635.7 305.4 637.0 305.9C638.3 306.3 639.7 306.7 641.0 307.1C642.3 307.6 643.7 308.0 645.0 308.4C646.3 308.9 647.7 309.4 649.0 309.8C650.3 310.3 651.7 310.7 653.0 311.2C654.3 311.7 655.7 312.1 657.0 312.6C658.3 313.0 659.7 313.5 661.0 313.9C662.3 314.4 663.7 314.8 665.0 315.3C666.3 315.7 667.7 316.2 669.0 316.6C670.3 317.0 671.7 317.5 673.0 317.9C674.3 318.4 675.7 318.8 677.0 319.2C678.3 319.7 679.7 320.1 681.0 320.6C682.3 321.0 683.7 321.5 685.0 321.9C686.3 322.4 687.7 322.9 689.0 323.3C690.3 323.8 691.7 324.3 693.0 324.7C694.3 325.2 695.7 325.7 697.0 326.2C698.3 326.7 699.7 327.2 701.0 327.7C702.3 328.2 703.7 328.7 705.0 329.2C706.3 329.7 707.7 330.2 709.0 330.7C710.3 331.2 711.7 331.8 713.0 332.3C714.3 332.8 715.7 333.3 717.0 333.9C718.3 334.4 719.7 335.0 721.0 335.5C722.3 336.1 723.7 336.7 725.0 337.2C726.3 337.8 727.7 338.4 729.0 339.1C730.3 339.7 731.7 340.3 733.0 340.9C734.3 341.5 735.7 342.2 737.0 342.8C738.3 343.4 739.7 344.0 741.0 344.6C742.3 345.1 743.7 345.7 745.0 346.2C746.3 346.8 747.7 347.3 749.0 347.8C750.3 348.3 751.7 348.8 753.0 349.3C754.3 349.8 755.7 350.3 757.0 350.8C758.3 351.2 759.7 351.7 761.0 352.1C762.3 352.5 763.7 352.9 765.0 353.3C766.3 353.7 767.7 354.0 769.0 354.4C770.3 354.7 771.7 355.0 773.0 355.4C774.3 355.7 775.7 356.0 777.0 356.3C778.3 356.5 779.7 356.8 781.0 357.0C782.3 357.3 783.7 357.5 785.0 357.7C786.3 357.9 787.7 358.1 789.0 358.2C790.3 358.4 791.7 358.5 793.0 358.6C794.3 358.8 795.7 358.9 797.0 359.0C798.3 359.1 799.7 359.2 801.0 359.3C802.3 359.4 803.7 359.5 805.0 359.5C806.3 359.6 807.7 359.7 809.0 359.7C810.3 359.8 811.7 359.8 813.0 359.9C814.3 359.9 815.7 360.0 817.0 360.0C818.3 360.0 819.7 360.1 821.0 360.1C822.3 360.1 823.7 360.2 825.0 360.2C826.3 360.2 827.7 360.3 829.0 360.3C830.3 360.3 831.7 360.4 833.0 360.4C834.3 360.4 835.7 360.4 837.0 360.4C838.3 360.5 839.7 360.5 841.0 360.5C842.3 360.5 843.7 360.6 845.0 360.6C846.3 360.6 847.7 360.6 849.0 360.6C850.3 360.7 851.7 360.7 853.0 360.7C854.3 360.7 855.7 360.7 857.0 360.8C858.3 360.8 859.7 360.8 861.0 360.8C862.3 360.8 863.7 360.8 865.0 360.8C866.3 360.9 867.7 360.9 869.0 360.9C870.3 360.9 871.7 360.9 873.0 360.9C874.3 360.9 875.7 360.9 877.0 360.9C878.3 360.9 879.7 361.0 881.0 361.0C882.3 361.0 883.7 361.0 885.0 361.0C886.3 361.0 887.7 361.0 889.0 361.0C890.3 361.0 891.7 361.0 893.0 361.0C894.3 361.0 895.7 361.1 897.0 361.1C898.3 361.1 899.7 361.1 901.0 361.1C902.3 361.1 903.7 361.1 905.0 361.1C906.3 361.1 907.7 361.1 909.0 361.1C910.3 361.1 911.7 361.1 913.0 361.1C914.3 361.1 915.7 361.2 917.0 361.2C918.3 361.2 919.7 361.2 921.0 361.2C922.3 361.2 923.7 361.2 925.0 361.2C926.3 361.2 927.7 361.2 929.0 361.2C930.3 361.2 931.7 361.2 933.0 361.2C934.3 361.2 935.7 361.2 937.0 361.2C938.3 361.2 939.7 361.2 941.0 361.3C942.3 361.3 943.7 361.3 945.0 361.3C946.3 361.3 947.7 361.3 949.0 361.3C950.3 361.3 951.7 361.3 953.0 361.3C954.3 361.3 955.7 361.3 957.0 361.3C958.3 361.3 959.7 361.3 961.0 361.3C962.3 361.3 963.7 361.3 965.0 361.3C966.3 361.3 967.7 361.3 969.0 361.4C970.3 361.4 971.7 361.4 973.0 361.4C974.3 361.4 975.7 361.4 977.0 361.4C978.3 361.4 979.7 361.4 981.0 361.4C982.3 361.4 983.7 361.4 985.0 361.4C986.3 361.4 987.7 361.4 989.0 361.4C990.3 361.4 991.7 361.4 993.0 361.4C994.3 361.4 995.7 361.4 997.0 361.4C998.3 361.4 999.7 361.4 1001.0 361.4C1002.3 361.4 1003.7 361.5 1005.0 361.5C1006.3 361.5 1007.7 361.5 1009.0 361.5C1010.3 361.5 1011.7 361.5 1013.0 361.5C1014.3 361.5 1015.7 361.5 1017.0 361.5C1018.3 361.5 1019.7 361.6 1021.0 361.6C1022.3 361.6 1023.7 361.6 1025.0 361.6C1026.3 361.6 1027.7 361.7 1029.0 361.7C1030.3 361.7 1031.7 361.7 1033.0 361.8C1034.3 361.8 1035.7 361.8 1037.0 361.8C1038.3 361.9 1039.7 361.9 1041.0 361.9C1042.3 362.0 1043.7 362.0 1045.0 362.0C1046.3 362.1 1047.7 362.1 1049.0 362.1C1050.3 362.2 1051.7 362.2 1053.0 362.3C1054.3 362.3 1055.7 362.3 1057.0 362.4C1058.3 362.4 1059.7 362.4 1061.0 362.5C1062.3 362.5 1063.7 362.6 1065.0 362.6C1066.3 362.6 1067.7 362.7 1069.0 362.7C1070.3 362.8 1071.7 362.8 1073.0 362.8C1074.3 362.9 1075.7 362.9 1077.0 363.0C1078.3 363.0 1079.7 363.1 1081.0 363.1C1082.3 363.1 1083.7 363.2 1085.0 363.2C1086.3 363.3 1087.7 363.3 1089.0 363.4C1090.3 363.4 1091.7 363.5 1093.0 363.5C1094.3 363.6 1095.7 363.7 1097.0 363.7C1098.3 363.8 1099.7 363.8 1101.0 363.9C1102.3 363.9 1103.7 364.0 1105.0 364.1C1106.3 364.1 1107.7 364.2 1109.0 364.2C1110.3 364.3 1111.8 364.4 1113.0 364.4C1114.2 364.5 1115.5 364.6 1116.0 364.6"/>
<path stroke="#0b7512" stroke-width="2.8" d="M181.0 66.5C181.7 66.9 183.7 68.0 185.0 68.7C186.3 69.4 187.7 70.1 189.0 70.8C190.3 71.5 191.7 72.1 193.0 72.8C194.3 73.4 195.7 74.1 197.0 74.7C198.3 75.3 199.7 75.9 201.0 76.5C202.3 77.1 203.7 77.6 205.0 78.2C206.3 78.7 207.7 79.3 209.0 79.8C210.3 80.3 211.7 80.8 213.0 81.3C214.3 81.8 215.7 82.3 217.0 82.8C218.3 83.3 219.7 83.8 221.0 84.2C222.3 84.7 223.7 85.2 225.0 85.6C226.3 86.1 227.7 86.5 229.0 86.9C230.3 87.3 231.7 87.7 233.0 88.1C234.3 88.4 235.7 88.8 237.0 89.1C238.3 89.5 239.7 89.8 241.0 90.1C242.3 90.4 243.7 90.7 245.0 91.0C246.3 91.3 247.7 91.6 249.0 91.9C250.3 92.2 251.7 92.4 253.0 92.7C254.3 93.0 255.7 93.2 257.0 93.5C258.3 93.7 259.7 93.9 261.0 94.2C262.3 94.4 263.7 94.6 265.0 94.8C266.3 95.1 267.7 95.3 269.0 95.5C270.3 95.7 271.7 95.9 273.0 96.1C274.3 96.3 275.7 96.4 277.0 96.6C278.3 96.8 279.7 97.0 281.0 97.1C282.3 97.3 283.7 97.4 285.0 97.6C286.3 97.7 287.7 97.8 289.0 98.0C290.3 98.1 291.7 98.2 293.0 98.4C294.3 98.5 295.7 98.6 297.0 98.7C298.3 98.8 299.7 98.9 301.0 99.0C302.3 99.1 303.7 99.2 305.0 99.3C306.3 99.4 307.7 99.5 309.0 99.5C310.3 99.6 311.7 99.7 313.0 99.7C314.3 99.8 315.7 99.9 317.0 99.9C318.3 100.0 319.7 100.0 321.0 100.1C322.3 100.1 323.7 100.2 325.0 100.2C326.3 100.3 327.7 100.3 329.0 100.4C330.3 100.4 331.7 100.5 333.0 100.5C334.3 100.6 335.7 100.6 337.0 100.7C338.3 100.7 339.7 100.8 341.0 100.8C342.3 100.9 343.7 101.0 345.0 101.0C346.3 101.1 347.7 101.1 349.0 101.2C350.3 101.3 351.7 101.3 353.0 101.4C354.3 101.5 355.7 101.5 357.0 101.6C358.3 101.7 359.7 101.7 361.0 101.8C362.3 101.9 363.7 102.0 365.0 102.1C366.3 102.1 367.7 102.2 369.0 102.3C370.3 102.4 371.7 102.5 373.0 102.6C374.3 102.7 375.7 102.8 377.0 103.0C378.3 103.1 379.7 103.2 381.0 103.3C382.3 103.5 383.7 103.6 385.0 103.8C386.3 103.9 387.7 104.1 389.0 104.3C390.3 104.5 391.7 104.7 393.0 104.9C394.3 105.2 395.7 105.4 397.0 105.7C398.3 106.0 399.7 106.3 401.0 106.7C402.3 107.1 403.7 107.5 405.0 107.9C406.3 108.4 407.7 108.8 409.0 109.3C410.3 109.9 411.7 110.4 413.0 111.1C414.3 111.7 415.7 112.4 417.0 113.2C418.3 114.0 419.7 114.8 421.0 115.7C422.3 116.6 423.7 117.5 425.0 118.4C426.3 119.4 427.7 120.3 429.0 121.3C430.3 122.3 431.7 123.3 433.0 124.4C434.3 125.4 435.7 126.5 437.0 127.7C438.3 128.9 439.7 130.1 441.0 131.4C442.3 132.7 443.7 134.2 445.0 135.5C446.3 136.9 447.7 138.2 449.0 139.4C450.3 140.6 451.7 141.7 453.0 142.7C454.3 143.8 455.7 144.7 457.0 145.6C458.3 146.5 459.7 147.3 461.0 148.1C462.3 148.9 463.7 149.6 465.0 150.3C466.3 151.0 467.7 151.7 469.0 152.5C470.3 153.2 471.7 154.0 473.0 154.7C474.3 155.5 475.7 156.2 477.0 157.0C478.3 157.7 479.7 158.4 481.0 159.1C482.3 159.8 483.7 160.4 485.0 161.1C486.3 161.7 487.7 162.3 489.0 162.9C490.3 163.5 491.7 164.0 493.0 164.6C494.3 165.2 495.7 165.8 497.0 166.4C498.3 167.1 499.7 167.7 501.0 168.4C502.3 169.1 503.7 169.8 505.0 170.6C506.3 171.3 507.7 172.2 509.0 173.0C510.3 173.9 511.7 174.8 513.0 175.8C514.3 176.7 515.7 177.7 517.0 178.7C518.3 179.6 519.7 180.6 521.0 181.6C522.3 182.6 523.7 183.6 525.0 184.7C526.3 185.7 527.7 186.8 529.0 187.8C530.3 188.9 531.7 190.0 533.0 191.1C534.3 192.1 535.7 193.2 537.0 194.3C538.3 195.3 539.7 196.4 541.0 197.5C542.3 198.6 543.7 199.6 545.0 200.7C546.3 201.8 547.7 202.8 549.0 203.9C550.3 205.0 551.7 206.0 553.0 207.0C554.3 208.1 555.7 209.1 557.0 210.2C558.3 211.2 559.7 212.2 561.0 213.2C562.3 214.2 563.7 215.2 565.0 216.1C566.3 217.0 567.7 217.9 569.0 218.8C570.3 219.6 571.7 220.5 573.0 221.3C574.3 222.1 575.7 222.8 577.0 223.6C578.3 224.3 579.7 225.0 581.0 225.7C582.3 226.4 583.7 227.0 585.0 227.6C586.3 228.2 587.7 228.8 589.0 229.4C590.3 230.0 591.7 230.5 593.0 231.0C594.3 231.5 595.7 232.0 597.0 232.5C598.3 233.0 599.7 233.5 601.0 234.0C602.3 234.5 603.7 234.9 605.0 235.4C606.3 235.9 607.7 236.3 609.0 236.7C610.3 237.2 611.7 237.6 613.0 238.0C614.3 238.5 615.7 238.9 617.0 239.3C618.3 239.7 619.7 240.1 621.0 240.5C622.3 240.9 623.7 241.2 625.0 241.6C626.3 242.0 627.7 242.4 629.0 242.7C630.3 243.1 631.7 243.4 633.0 243.8C634.3 244.1 635.7 244.5 637.0 244.9C638.3 245.2 639.7 245.6 641.0 245.9C642.3 246.3 643.7 246.6 645.0 247.0C646.3 247.3 647.7 247.7 649.0 248.0C650.3 248.4 651.7 248.8 653.0 249.1C654.3 249.5 655.7 249.8 657.0 250.2C658.3 250.6 659.7 250.9 661.0 251.3C662.3 251.7 663.7 252.1 665.0 252.5C666.3 252.8 667.7 253.2 669.0 253.6C670.3 254.0 671.7 254.5 673.0 254.9C674.3 255.3 675.7 255.7 677.0 256.1C678.3 256.6 679.7 257.0 681.0 257.4C682.3 257.8 683.7 258.3 685.0 258.7C686.3 259.1 687.7 259.6 689.0 260.0C690.3 260.4 691.7 260.9 693.0 261.3C694.3 261.7 695.7 262.2 697.0 262.6C698.3 263.1 699.7 263.5 701.0 264.0C702.3 264.4 703.7 264.9 705.0 265.3C706.3 265.8 707.7 266.2 709.0 266.7C710.3 267.2 711.7 267.7 713.0 268.1C714.3 268.6 715.7 269.1 717.0 269.5C718.3 270.0 719.7 270.5 721.0 270.9C722.3 271.3 723.7 271.8 725.0 272.2C726.3 272.6 727.7 273.0 729.0 273.4C730.3 273.8 731.7 274.2 733.0 274.6C734.3 275.0 735.7 275.4 737.0 275.7C738.3 276.1 739.7 276.4 741.0 276.7C742.3 277.1 743.7 277.3 745.0 277.6C746.3 277.9 747.7 278.1 749.0 278.3C750.3 278.5 751.7 278.8 753.0 279.0C754.3 279.2 755.7 279.3 757.0 279.5C758.3 279.7 759.7 279.9 761.0 280.0C762.3 280.2 763.7 280.4 765.0 280.6C766.3 280.7 767.7 280.9 769.0 281.1C770.3 281.2 771.7 281.4 773.0 281.6C774.3 281.8 775.7 281.9 777.0 282.1C778.3 282.3 779.7 282.4 781.0 282.6C782.3 282.7 783.7 282.8 785.0 282.9C786.3 283.0 787.7 283.1 789.0 283.1C790.3 283.2 791.7 283.2 793.0 283.3C794.3 283.3 795.7 283.3 797.0 283.4C798.3 283.4 799.7 283.5 801.0 283.5C802.3 283.5 803.7 283.6 805.0 283.6C806.3 283.6 807.7 283.6 809.0 283.7C810.3 283.7 811.7 283.7 813.0 283.7C814.3 283.8 815.7 283.8 817.0 283.8C818.3 283.8 819.7 283.8 821.0 283.8C822.3 283.9 823.7 283.9 825.0 283.9C826.3 283.9 827.7 283.9 829.0 283.9C830.3 283.9 831.7 283.9 833.0 283.9C834.3 283.9 835.7 283.9 837.0 283.9C838.3 283.9 839.7 283.9 841.0 283.9C842.3 283.9 843.7 283.9 845.0 283.9C846.3 283.9 847.7 283.8 849.0 283.8C850.3 283.8 851.7 283.8 853.0 283.8C854.3 283.8 855.7 283.8 857.0 283.8C858.3 283.8 859.7 283.8 861.0 283.8C862.3 283.7 863.7 283.7 865.0 283.7C866.3 283.7 867.7 283.7 869.0 283.7C870.3 283.7 871.7 283.7 873.0 283.6C874.3 283.6 875.7 283.6 877.0 283.6C878.3 283.6 879.7 283.6 881.0 283.6C882.3 283.6 883.7 283.5 885.0 283.5C886.3 283.5 887.7 283.5 889.0 283.5C890.3 283.5 891.7 283.5 893.0 283.5C894.3 283.4 895.7 283.4 897.0 283.4C898.3 283.4 899.7 283.4 901.0 283.4C902.3 283.4 903.7 283.4 905.0 283.3C906.3 283.3 907.7 283.3 909.0 283.3C910.3 283.3 911.7 283.3 913.0 283.3C914.3 283.3 915.7 283.3 917.0 283.3C918.3 283.3 919.7 283.3 921.0 283.2C922.3 283.2 923.7 283.2 925.0 283.2C926.3 283.2 927.7 283.2 929.0 283.2C930.3 283.2 931.7 283.2 933.0 283.2C934.3 283.2 935.7 283.1 937.0 283.1C938.3 283.1 939.7 283.1 941.0 283.1C942.3 283.1 943.7 283.1 945.0 283.1C946.3 283.1 947.7 283.1 949.0 283.1C950.3 283.1 951.7 283.0 953.0 283.0C954.3 283.0 955.7 283.0 957.0 283.0C958.3 283.0 959.7 283.0 961.0 283.0C962.3 283.0 963.7 283.0 965.0 283.0C966.3 283.0 967.7 283.0 969.0 283.0C970.3 283.0 971.7 282.9 973.0 282.9C974.3 282.9 975.7 282.9 977.0 282.9C978.3 282.9 979.7 282.9 981.0 282.9C982.3 282.9 983.7 282.9 985.0 282.9C986.3 282.9 987.7 282.9 989.0 282.9C990.3 282.9 991.7 282.9 993.0 282.9C994.3 282.9 995.7 282.9 997.0 282.9C998.3 282.9 999.7 282.9 1001.0 282.9C1002.3 283.0 1003.7 283.0 1005.0 283.0C1006.3 283.0 1007.7 283.0 1009.0 283.0C1010.3 283.1 1011.7 283.1 1013.0 283.1C1014.3 283.1 1015.7 283.2 1017.0 283.2C1018.3 283.2 1019.7 283.3 1021.0 283.3C1022.3 283.3 1023.7 283.4 1025.0 283.4C1026.3 283.4 1027.7 283.5 1029.0 283.5C1030.3 283.6 1031.7 283.6 1033.0 283.6C1034.3 283.7 1035.7 283.7 1037.0 283.8C1038.3 283.8 1039.7 283.9 1041.0 283.9C1042.3 283.9 1043.7 284.0 1045.0 284.0C1046.3 284.1 1047.7 284.1 1049.0 284.1C1050.3 284.2 1051.7 284.2 1053.0 284.3C1054.3 284.3 1055.7 284.3 1057.0 284.4C1058.3 284.4 1059.7 284.5 1061.0 284.5C1062.3 284.5 1063.7 284.6 1065.0 284.6C1066.3 284.7 1067.7 284.7 1069.0 284.8C1070.3 284.8 1071.7 284.9 1073.0 284.9C1074.3 284.9 1075.7 285.0 1077.0 285.0C1078.3 285.1 1079.7 285.1 1081.0 285.2C1082.3 285.2 1083.7 285.3 1085.0 285.3C1086.3 285.4 1087.7 285.5 1089.0 285.5C1090.3 285.6 1091.7 285.6 1093.0 285.7C1094.3 285.7 1095.7 285.8 1097.0 285.8C1098.3 285.9 1099.7 285.9 1101.0 286.0C1102.3 286.1 1103.7 286.1 1105.0 286.2C1106.3 286.2 1107.7 286.3 1109.0 286.4C1110.3 286.4 1111.8 286.5 1113.0 286.5C1114.2 286.6 1115.5 286.7 1116.0 286.7"/>
</g>
<g fill="none" stroke="#000" stroke-width="2.1" stroke-linecap="butt">
<path d="M145.2 30.6 V564.6 M145.2 574.6 V642.4"/>
<path d="M144.1 31.7 H1118.4"/>
<path d="M1117.3 31.7 V564.6 M1117.3 574.6 V642.4"/>
<path d="M131.2 629.4 H1118.4"/>
<path d="M131.5 569.6 L158.5 559.6 M131.5 579.6 L158.5 569.6"/>
<path d="M1103.6 569.6 L1130.6 559.6 M1103.6 579.6 L1130.6 569.6"/>
<path d="M131.2 66.4 H145.2"/>
<path d="M131.2 135.5 H145.2"/>
<path d="M131.2 204.5 H145.2"/>
<path d="M131.2 274.0 H145.2"/>
<path d="M131.2 343.5 H145.2"/>
<path d="M131.2 412.0 H145.2"/>
<path d="M131.2 481.0 H145.2"/>
<path d="M131.2 550.5 H145.2"/>
<path d="M266.0 629.4 V642.4"/>
<path d="M388.0 629.4 V642.4"/>
<path d="M509.5 629.4 V642.4"/>
<path d="M631.0 629.4 V642.4"/>
<path d="M752.5 629.4 V642.4"/>
<path d="M873.5 629.4 V642.4"/>
<path d="M995.5 629.4 V642.4"/>
</g>
<g class="tk" font-size="41">
<text transform="translate(125.4 75.2) scale(1 1.04)" text-anchor="end">100</text>
<text transform="translate(119.0 144.3) scale(1 1.04)" text-anchor="end">90</text>
<text transform="translate(119.0 213.3) scale(1 1.04)" text-anchor="end">80</text>
<text transform="translate(119.0 282.8) scale(1 1.04)" text-anchor="end">70</text>
<text transform="translate(119.0 352.3) scale(1 1.04)" text-anchor="end">60</text>
<text transform="translate(119.0 420.8) scale(1 1.04)" text-anchor="end">50</text>
<text transform="translate(119.0 489.8) scale(1 1.04)" text-anchor="end">40</text>
<text transform="translate(119.0 559.3) scale(1 1.04)" text-anchor="end">30</text>
<text transform="translate(113.5 638.2) scale(1 1.04)" text-anchor="end">0</text>
<text transform="translate(141.5 682) scale(1 1.04)" text-anchor="middle">0</text>
<text transform="translate(270.0 682) scale(1 1.04)" text-anchor="middle">100</text>
<text transform="translate(391.3 682) scale(1 1.04)" text-anchor="middle">200</text>
<text transform="translate(512.6 682) scale(1 1.04)" text-anchor="middle">300</text>
<text transform="translate(634.0 682) scale(1 1.04)" text-anchor="middle">400</text>
<text transform="translate(755.5 682) scale(1 1.04)" text-anchor="middle">500</text>
<text transform="translate(876.5 682) scale(1 1.04)" text-anchor="middle">600</text>
<text transform="translate(998.5 682) scale(1 1.04)" text-anchor="middle">700</text>
<text transform="translate(1120.3 682) scale(1 1.04)" text-anchor="middle">800</text>
</g>
<text class="tt" font-size="41.4" transform="translate(475.9 739.4) scale(1 1.0)">Temperature (°C)</text>
<text class="tt" font-size="41.7" transform="translate(31.1 420.2) rotate(-90) scale(1 1.0)">Weight (%)</text>
<g class="lg" font-size="35.1">
<path d="M734 68.6 L793.5 68.6" stroke="#c2c2c2" stroke-width="2.7" fill="none"/>
<text x="803.6" y="80.2">Biofilm</text>
<path d="M734 108.1 L793.5 106.9" stroke="#78080f" stroke-width="2.7" fill="none"/>
<text x="803.6" y="119.3">Mineralized 1 day</text>
<path d="M734 146.3 L793.5 146.3" stroke="#7e841d" stroke-width="2.7" fill="none"/>
<text x="803.6" y="158.6">Mineralized 3 days</text>
<path d="M734 185.0 L793.5 185.0" stroke="#f28a20" stroke-width="2.7" fill="none"/>
<text x="803.6" y="198.0">Mineralized 5 days</text>
<path d="M734 226.2 L793.5 226.2" stroke="#0b7512" stroke-width="2.7" fill="none"/>
<text x="803.6" y="238.0">Mineralized 7 days</text>
</g>
</svg>
<div class="corner"></div>
<div class="tbl" role="table" aria-label="Inorganic content versus incubation time">
  <div class="row hd" role="row">
    <div class="cell c1" role="columnheader"><span style="left:19.5px;top:9.9px">Incubation</span><span style="left:20px;top:71.8px;word-spacing:-2px">time (day)</span></div>
    <div class="cell c2" role="columnheader"><span style="left:17.5px;top:9.9px">Inorganic</span><span style="left:17.5px;top:71.8px;word-spacing:-1px">content (wt%)</span></div>
  </div>
  <div class="row bd r1" role="row">
    <div class="cell c1" role="cell"><span class="n" style="top:25.8px">1</span></div>
    <div class="cell c2" role="cell"><span class="v" style="top:25.8px">5.6 ± 1.1%</span></div>
  </div>
  <div class="row bd r2" role="row">
    <div class="cell c1" role="cell"><span class="n" style="top:24.6px">3</span></div>
    <div class="cell c2" role="cell"><span class="v" style="top:24.6px">29.7 ± 2.5%</span></div>
  </div>
  <div class="row bd r3" role="row">
    <div class="cell c1" role="cell"><span class="n" style="top:25.4px">5</span></div>
    <div class="cell c2" role="cell"><span class="v" style="top:25.4px">40.2 ± 1.2%</span></div>
  </div>
  <div class="row bd r4" role="row">
    <div class="cell c1" role="cell"><span class="n" style="top:26.8px">7</span></div>
    <div class="cell c2" role="cell"><span class="v" style="top:26.8px">54.4 ± 5.0%</span></div>
  </div>
</div>
</body>
</html>
